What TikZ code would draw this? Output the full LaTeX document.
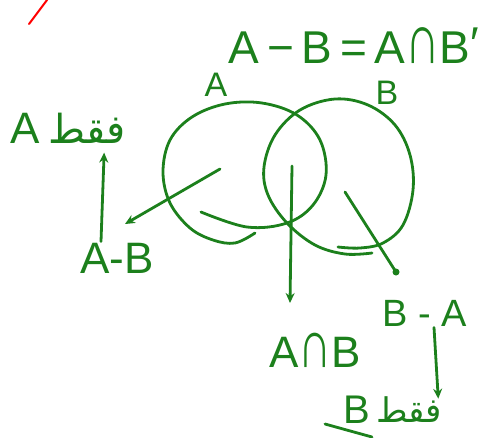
\documentclass[tikz,border=0pt]{standalone}
\usepackage{fontspec}
\setmainfont{Liberation Sans}
\newfontfamily\arabicfont[Script=Arabic]{DejaVu Sans}
\TeXXeTstate=1
\usetikzlibrary{positioning, arrows.meta}
\definecolor{pen}{RGB}{28,128,28}
\tikzset{
  lbl/.style={inner sep=0pt, font=\fontsize{#1}{#1}\selectfont},
  fqt/.style={inner sep=0pt, font=\arabicfont\fontsize{#1}{#1}\selectfont},
}
\newcommand{\onlyword}{\beginR فقط\endR}
\newcommand{\tallcap}{\scalebox{1.05}[1.55]{∩}}
\begin{document}
\begin{tikzpicture}[x=1pt, y=-1pt, >={Stealth[length=10pt, width=9pt]}, line width=2.8pt, color=pen, line cap=round, line join=round]
    \useasboundingbox (0,0) rectangle (481,437);

    % 赤い印
    \draw[red, line width=2pt] (29,24) -- (47,0);

    % 式
    \node[lbl=46] (eq) at (354,46) {A\,−\,B\,=\,A\tallcap B\raisebox{4pt}{′}};

    % 円 A
    \draw plot[smooth, tension=0.6] coordinates {(201,212) (247,227) (287,223) (313,205) (326,175) (320,140) (297,115) (262,103) (225,104) (192,117) (170,140) (163,172) (170,203) (190,228) (213,240) (235,243) (255,233)};
    \node[lbl=34] (lblA) at (216,85) {A};

    % 円 B
    \draw plot[smooth, tension=0.6] coordinates {(338,247) (360,248) (383,243) (403,225) (413,190) (410,155) (395,125) (368,105) (335,99) (300,110) (275,135) (264,167) (268,195) (287,223) (315,245) (345,254) (372,253)};
    \node[lbl=34] (lblB) at (387,93) {B};

    % A のみ
    \node[lbl=44] (letA) at (25,128) {A};
    \node[fqt=40, right=6pt of letA] (fqtA) {\onlyword};
    \node[lbl=44] (AmB) at (117,258) {A-B};
    \coordinate (inA) at (220,169);
    \coordinate (tipA) at (125,224);
    \draw[->] (inA) -- (tipA);
    \draw[->] ([xshift=-16pt]AmB.north) -- ([xshift=17pt, yshift=-8pt]fqtA.south);

    % 共通部分
    \coordinate (inAB) at (292,166);
    \coordinate (tipAB) at (290,303);
    \draw[->] (inAB) -- (tipAB);
    \node[lbl=44] (AcapB) at (315,350) {A\tallcap B};

    % B のみ
    \coordinate (inB) at (345,192);
    \coordinate (tipB) at (396,272);
    \draw (inB) -- (tipB);
    \fill (tipB) circle (3.5);
    \node[lbl=38] (BmA) at (425,313) {B - A};
    \node[lbl=40] (letB) at (357,410) {B};
    \node[fqt=34, right=3pt of letB] (fqtB) {\onlyword};
    \draw[->] ([xshift=9pt]BmA.south) -- ([xshift=-5pt, yshift=-3pt]fqtB.north east);
    \draw (325,424) -- (372,437);
\end{tikzpicture}
\end{document}
